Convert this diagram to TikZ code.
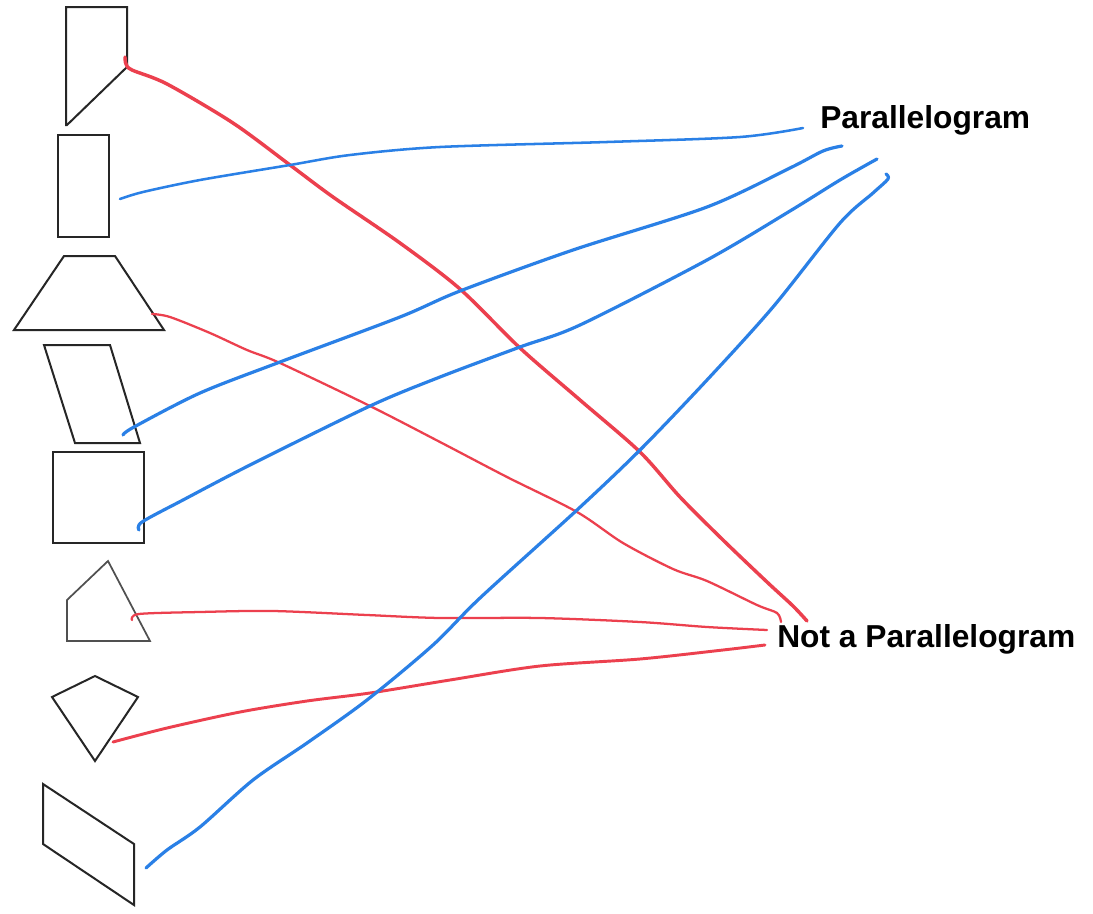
\documentclass[tikz,border=0pt]{standalone}
\usepackage{fontspec}
\setmainfont{Liberation Sans}
\definecolor{penred}{RGB}{236,64,78}
\definecolor{penblue}{RGB}{42,128,230}
\definecolor{shapegray}{RGB}{80,80,80}
\tikzset{
  outlinebox/.style={draw=black!85, line width=1.5pt, line join=miter},
  outlinethin/.style={draw=shapegray, line width=1.3pt},
  redthick/.style={draw=penred, line width=2.6pt, line cap=round, line join=round},
  redmid/.style={draw=penred, line width=2.2pt, line cap=round, line join=round},
  redthin/.style={draw=penred, line width=1.7pt, line cap=round, line join=round},
  bluethick/.style={draw=penblue, line width=2.4pt, line cap=round, line join=round},
  bluethin/.style={draw=penblue, line width=1.9pt, line cap=round, line join=round},
  bigtext/.style={font=\fontsize{23.8}{28}\selectfont\bfseries, inner sep=0pt, anchor=base west}
}
\begin{document}
\begin{tikzpicture}[x=0.75pt, y=-0.75pt]
\useasboundingbox[fill=white] (0,0) rectangle (1093,914);

% shapes
\draw[outlinebox] (66,7) -- (127,7) -- (127,67) -- (67,125) -- (66,125) -- cycle;
\draw[outlinebox] (58,135) rectangle (109,237);
\draw[outlinebox] (64,256) -- (115,256) -- (164,330) -- (14,330) -- cycle;
\draw[outlinebox] (44,345) -- (110,345) -- (140,443) -- (75,443) -- cycle;
\draw[outlinebox] (53,452) rectangle (144,543);
\draw[outlinethin] (108,561) -- (67,600) -- (67,641) -- (150,641) -- cycle;
\draw[outlinebox] (95,676) -- (138,697) -- (95,761) -- (52,697) -- cycle;
\draw[outlinebox] (43,784) -- (134,844) -- (134,905) -- (43,844) -- cycle;

% labels
\node[bigtext] (P) at (820,128) {Parallelogram};
\node[bigtext] (NP) at (777,647) {Not a Parallelogram};

% connector end points
\coordinate (s1) at (125,57);
\coordinate (s2) at (120,199);
\coordinate (s3) at (152,314);
\coordinate (s4) at (123,435);
\coordinate (s5) at (139,530);
\coordinate (s6) at (132,620);
\coordinate (s7) at (113,742);
\coordinate (s8) at (146,868);
\coordinate (p1) at (803,128);
\coordinate (p2) at (842,146);
\coordinate (p3) at (877,159);
\coordinate (p4) at (886,174);
\coordinate (n1) at (807,621);
\coordinate (n2) at (781,622);
\coordinate (n3) at (767,630);
\coordinate (n4) at (765,645);

% red connectors
\draw[redthick] plot[smooth, tension=0.5] coordinates {(s1) (126,64) (132,70) (167,84) (233,123) (290,165) (333,197) (400,243) (460,289) (520,348) (580,400) (640,452) (680,497) (723,540) (767,582) (793,606) (n1)};
\draw[redthin] plot[smooth, tension=0.5] coordinates {(s3) (170,317) (210,333) (247,350) (280,363) (370,406) (440,442) (507,477) (577,512) (623,543) (673,569) (707,581) (757,605) (777,613) (n2)};
\draw[redthin] plot[smooth, tension=0.5] coordinates {(s6) (139,614) (200,612) (273,611) (367,615) (440,618) (540,618) (640,622) (707,627) (n3)};
\draw[redmid] plot[smooth, tension=0.5] coordinates {(s7) (167,728) (240,712) (307,701) (370,693) (450,680) (540,666) (640,659) (723,650) (n4)};

% blue connectors
\draw[bluethin] plot[smooth, tension=0.5] coordinates {(s2) (143,192) (200,180) (290,165) (350,155) (440,147) (607,142) (740,137) (p1)};
\draw[bluethick] plot[smooth, tension=0.5] coordinates {(s4) (134,427) (200,393) (280,362) (400,317) (460,291) (573,250) (707,207) (790,168) (823,151) (p2)};
\draw[bluethick] plot[smooth, tension=0.5] coordinates {(s5) (142,522) (183,500) (250,465) (370,406) (440,377) (520,347) (580,325) (707,260) (790,211) (840,180) (p3)};
\draw[bluethick] plot[smooth, tension=0.5] coordinates {(s8) (167,850) (200,827) (253,780) (307,743) (367,700) (433,645) (480,598) (577,510) (640,450) (707,380) (773,307) (840,223) (873,193) (888,179) (p4)};
\end{tikzpicture}
\end{document}
